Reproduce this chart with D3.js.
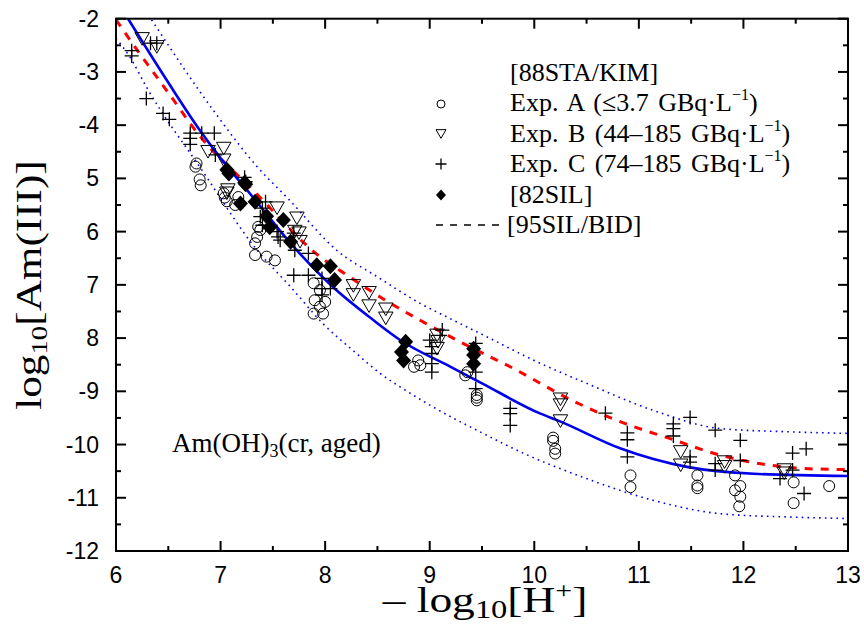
<!DOCTYPE html>
<html><head><meta charset="utf-8">
<script src="https://cdn.jsdelivr.net/npm/d3@7"></script>
<style>body{margin:0;background:#fff}svg{display:block}</style>
</head><body>
<svg id="c" width="864" height="625"></svg>
<script>
// ---------- data ----------
const xTicks = [6,7,8,9,10,11,12,13];
const xTickLabels = ["6","7","8","9","10","11","12","13"];
const yTicks = [-2,-3,-4,-5,-6,-7,-8,-9,-10,-11,-12];
const yTickLabels = ["-2","-3","-4","5","6","7","8","-9","-10","-11","-12"];

// Exp. A (circles)
const expA = [[6.77,-4.72],[6.76,-4.78],[6.80,-5.02],[6.81,-5.13],
 [7.03,-5.28],[7.04,-5.36],[7.06,-5.43],[7.17,-5.35],[7.14,-5.50],
 [7.36,-5.91],[7.38,-5.97],[7.35,-6.10],[7.33,-6.22],[7.33,-6.44],[7.44,-6.47],[7.52,-6.54],
 [7.89,-6.97],[7.95,-7.10],[7.90,-7.29],[8.00,-7.32],[7.95,-7.41],[7.89,-7.54],[7.98,-7.54],
 [8.89,-8.42],[8.85,-8.54],[8.91,-8.51],
 [9.34,-8.70],[9.36,-8.64],[9.45,-9.07],[9.45,-9.12],[9.45,-9.17],
 [10.18,-9.87],[10.18,-9.93],[10.20,-10.08],[10.20,-10.17],
 [10.92,-10.58],[10.92,-10.80],
 [11.56,-10.58],[11.56,-10.77],[11.56,-10.82],
 [11.92,-10.58],[11.92,-10.86],[11.97,-10.78],[11.97,-10.98],[11.96,-11.16],
 [12.48,-10.71],[12.48,-11.10],[12.82,-10.78]];
// Exp. B (down triangles)
const expB = [[6.25,-2.38],[6.39,-2.53],
 [6.88,-4.50],[7.03,-4.44],[7.03,-4.66],
 [7.07,-5.22],[7.06,-5.28],
 [7.54,-5.56],[7.73,-5.75],[7.71,-6.00],[7.76,-6.19],[7.75,-6.03],
 [8.27,-7.02],[8.27,-7.19],[8.42,-7.15],[8.42,-7.40],[8.58,-7.46],[8.58,-7.63],
 [9.07,-7.95],[9.08,-8.07],[9.07,-8.20],
 [10.25,-9.15],[10.25,-9.26],[10.25,-9.56],
 [11.40,-10.14],[11.40,-10.39],
 [11.82,-10.33],[11.82,-10.42],
 [12.39,-10.48],[12.39,-10.54]];
// Exp. C (plus)
const expC = [[6.15,-2.60],[6.15,-2.70],[6.33,-2.46],[6.39,-2.46],
 [6.29,-3.50],[6.45,-3.78],[6.51,-3.89],
 [6.71,-4.15],[6.71,-4.25],[6.71,-4.36],[6.82,-4.15],[6.94,-4.15],[6.95,-4.56],
 [7.23,-4.98],[7.24,-5.06],
 [7.43,-5.44],[7.40,-5.56],[7.38,-5.72],[7.40,-5.88],
 [7.54,-6.00],[7.55,-6.10],[7.57,-6.16],
 [7.70,-6.03],[7.71,-6.35],[7.84,-6.41],[7.70,-6.82],[7.84,-6.82],
 [7.97,-6.88],[7.97,-7.07],[7.97,-7.19],[8.05,-7.07],
 [9.12,-7.85],[9.10,-7.95],[9.00,-8.04],[9.02,-8.16],[9.02,-8.29],[9.02,-8.48],[9.02,-8.64],
 [9.44,-8.10],[9.44,-8.64],[9.44,-8.95],
 [9.77,-9.32],[9.77,-9.42],[9.77,-9.64],
 [10.68,-9.41],
 [10.89,-9.78],[10.89,-9.91],[10.89,-10.23],
 [11.33,-9.61],[11.33,-9.70],[11.33,-9.84],[11.49,-9.49],[11.49,-10.23],[11.49,-10.33],
 [11.73,-9.73],[11.73,-10.36],[11.73,-10.48],
 [11.97,-9.92],[11.97,-10.30],
 [12.35,-10.64],[12.47,-10.48],[12.47,-10.16],[12.60,-10.08],[12.58,-10.92]];
// [82SIL] (filled diamonds)
const sil82 = [[7.06,-4.84],[7.08,-4.91],[7.23,-5.08],[7.24,-5.11],[7.19,-5.47],[7.33,-5.44],
 [7.44,-5.71],[7.47,-5.92],[7.60,-5.78],[7.67,-6.19],[7.92,-6.63],[8.05,-6.65],[8.09,-6.91],
 [8.77,-8.07],[8.73,-8.26],[8.75,-8.42],[9.42,-8.20],[9.42,-8.32],[9.42,-8.48]];

// model curves
const modelLine = [[6.115,-2.0],[6.5,-3.2],[6.8,-4.09],[7.0,-4.62],[7.3,-5.33],[7.67,-6.22],
 [8.08,-7.05],[8.46,-7.66],[8.72,-8.04],[9.2,-8.54],[9.5,-8.85],[10.06,-9.42],[10.24,-9.56],
 [10.82,-10.07],[11.46,-10.42],[12.1,-10.55],[13.0,-10.59]];
const upperBound = [[6.34,-2.02],[6.93,-3.72],[7.35,-4.78],[7.66,-5.41],[8.11,-6.35],[8.5,-6.85],
 [8.91,-7.35],[9.16,-7.60],[9.55,-7.98],[10.03,-8.45],[10.50,-8.85],[11.14,-9.36],[11.78,-9.70],
 [12.42,-9.76],[13.0,-9.79]];
const lowerBound = [[6.0,-2.37],[6.13,-2.71],[6.29,-3.28],[6.82,-4.84],[7.35,-6.35],[7.67,-7.04],
 [7.98,-7.73],[8.30,-8.29],[8.53,-8.67],[8.72,-8.92],[9.26,-9.54],[9.42,-9.70],[9.87,-10.14],
 [10.50,-10.64],[11.14,-11.05],[11.78,-11.30],[12.42,-11.36],[13.0,-11.39]];
const sil95 = [[6.0,-2.02],[6.17,-2.5],[6.5,-3.39],[6.8,-4.2],[7.3,-5.2],[7.95,-6.47],[8.21,-6.82],
 [8.56,-7.27],[8.94,-7.70],[9.29,-8.07],[9.80,-8.57],[10.35,-9.16],[10.82,-9.57],[11.30,-9.89],
 [11.78,-10.20],[12.26,-10.39],[12.57,-10.45],[13.0,-10.47]];

// ---------- drawing ----------
const svg = d3.select("#c");
const L=116, R=848, T=18.7, B=551;
const x = d3.scaleLinear().domain([6,13]).range([L,R]);
const y = d3.scaleLinear().domain([-12,-2]).range([B,T]);

svg.append("defs").append("clipPath").attr("id","clip")
  .append("rect").attr("x",L).attr("y",T).attr("width",R-L).attr("height",B-T);

const blue="#0000ee", red="#ff0000";
const line = d3.line().x(d=>x(d[0])).y(d=>y(d[1])).curve(d3.curveMonotoneX);
const gC = svg.append("g").attr("clip-path","url(#clip)");
gC.append("path").datum(upperBound).attr("d",line).attr("fill","none")
  .attr("stroke",blue).attr("stroke-width",1.6).attr("stroke-dasharray","1.6,4.2");
gC.append("path").datum(lowerBound).attr("d",line).attr("fill","none")
  .attr("stroke",blue).attr("stroke-width",1.6).attr("stroke-dasharray","1.6,4.2");
gC.append("path").datum(sil95).attr("d",line).attr("fill","none")
  .attr("stroke",red).attr("stroke-width",3).attr("stroke-dasharray","8,8");
gC.append("path").datum(modelLine).attr("d",line).attr("fill","none")
  .attr("stroke",blue).attr("stroke-width",2.6);

// markers
const gM = svg.append("g");
function tri(cx,cy,s){const h=s*0.87;return `M${cx-s/2},${cy-h/2}L${cx+s/2},${cy-h/2}L${cx},${cy+h/2}Z`;}
function dia(cx,cy,w,h){return `M${cx},${cy-h/2}L${cx+w/2},${cy}L${cx},${cy+h/2}L${cx-w/2},${cy}Z`;}
function plus(cx,cy,s){return `M${cx-s/2},${cy}H${cx+s/2}M${cx},${cy-s/2}V${cy+s/2}`;}

gM.selectAll(".a").data(expA).join("circle").attr("cx",d=>x(d[0])).attr("cy",d=>y(d[1]))
  .attr("r",5.5).attr("fill","none").attr("stroke","#000").attr("stroke-width",1);
gM.selectAll(".b").data(expB).join("path").attr("d",d=>tri(x(d[0]),y(d[1]),14.5))
  .attr("fill","none").attr("stroke","#000").attr("stroke-width",1);
gM.selectAll(".c").data(expC).join("path").attr("d",d=>plus(x(d[0]),y(d[1]),14))
  .attr("fill","none").attr("stroke","#000").attr("stroke-width",1.3);
gM.selectAll(".d").data(sil82).join("path").attr("d",d=>dia(x(d[0]),y(d[1]),15,16))
  .attr("fill","#000");

// frame and ticks
const gA = svg.append("g").attr("stroke","#000").attr("stroke-width",2);
gA.append("rect").attr("x",L).attr("y",T).attr("width",R-L).attr("height",B-T).attr("fill","none");
const xMinor = d3.range(6.5,13,1), yMinor = d3.range(-11.5,-2,1);
xTicks.forEach(v=>{gA.append("line").attr("x1",x(v)).attr("x2",x(v)).attr("y1",B).attr("y2",B-10);
  gA.append("line").attr("x1",x(v)).attr("x2",x(v)).attr("y1",T).attr("y2",T+10);});
xMinor.forEach(v=>{gA.append("line").attr("x1",x(v)).attr("x2",x(v)).attr("y1",B).attr("y2",B-5);
  gA.append("line").attr("x1",x(v)).attr("x2",x(v)).attr("y1",T).attr("y2",T+5);});
yTicks.forEach(v=>{gA.append("line").attr("y1",y(v)).attr("y2",y(v)).attr("x1",L).attr("x2",L+10);
  gA.append("line").attr("y1",y(v)).attr("y2",y(v)).attr("x1",R).attr("x2",R-10);});
yMinor.forEach(v=>{gA.append("line").attr("y1",y(v)).attr("y2",y(v)).attr("x1",L).attr("x2",L+5);
  gA.append("line").attr("y1",y(v)).attr("y2",y(v)).attr("x1",R).attr("x2",R-5);});

// tick labels
const sans = "'Liberation Sans', Arial, sans-serif", serif = "'Liberation Serif','Times New Roman',serif";
svg.append("g").selectAll("text").data(xTicks).join("text")
  .attr("x",d=>x(d)).attr("y",B+32).attr("text-anchor","middle")
  .attr("font-family",sans).attr("font-size",23).text((d,i)=>xTickLabels[i]);
svg.append("g").selectAll("text").data(yTicks).join("text")
  .attr("x",L-17).attr("y",d=>y(d)+8).attr("text-anchor","end")
  .attr("font-family",sans).attr("font-size",23).text((d,i)=>yTickLabels[i]);

// axis titles
const xt = svg.append("text").attr("transform","translate(485,612) scale(1.3,1)").attr("text-anchor","middle")
  .attr("font-family",serif).attr("font-size",35);
xt.append("tspan").text("\u2013 log");
xt.append("tspan").attr("font-size",25).attr("dy",6).text("10");
xt.append("tspan").attr("dy",-6).text("[H");
xt.append("tspan").attr("font-size",23).attr("dy",-14).text("+");
xt.append("tspan").attr("dy",14).text("]");

const yt = svg.append("text").attr("transform","translate(41,285) rotate(-90) scale(1.2,1)").attr("text-anchor","middle")
  .attr("font-family",serif).attr("font-size",36);
yt.append("tspan").text("log");
yt.append("tspan").attr("font-size",24).attr("dy",6).text("10");
yt.append("tspan").attr("dy",-6).text("[Am(III)]");

// annotation
const an = svg.append("text").attr("x",172).attr("y",452).attr("font-family",serif).attr("font-size",27);
an.append("tspan").text("Am(OH)");
an.append("tspan").attr("font-size",18).attr("dy",5).text("3");
an.append("tspan").attr("dy",-5).text("(cr, aged)");

// legend
const lg = svg.append("g").attr("font-family",serif).attr("font-size",26);
const rows = [81,111,142,172,203,233];
const tx = 510;
lg.append("text").attr("x",tx).attr("y",rows[0]).text("[88STA/KIM]");
function gbq(t, pre){
  const el = lg.append("text").attr("x",tx).attr("y",t).style("word-spacing","3px");
  el.append("tspan").text(pre+" GBq\u00B7L");
  el.append("tspan").attr("font-size",16).attr("dy",-11).text("\u22121");
  el.append("tspan").attr("dy",11).text(")");
}
gbq(rows[1],"Exp. A (\u22643.7");
gbq(rows[2],"Exp. B (44\u2013185");
gbq(rows[3],"Exp. C (74\u2013185");
lg.append("text").attr("x",tx).attr("y",rows[4]).text("[82SIL]");
lg.append("text").attr("x",tx-3).attr("y",rows[5]).text("[95SIL/BID]");
const mx = 441;
lg.append("circle").attr("cx",mx).attr("cy",rows[1]-7).attr("r",4).attr("fill","none").attr("stroke","#000").attr("stroke-width",1);
lg.append("path").attr("d",tri(mx,rows[2]-8,10)).attr("fill","none").attr("stroke","#000").attr("stroke-width",1);
lg.append("path").attr("d",plus(mx,rows[3]-8,11)).attr("fill","none").attr("stroke","#000").attr("stroke-width",1.3);
lg.append("path").attr("d",dia(mx,rows[4]-8,10,11)).attr("fill","#000");
lg.append("line").attr("x1",436).attr("x2",505).attr("y1",rows[5]-8).attr("y2",rows[5]-8)
  .attr("stroke","#000").attr("stroke-width",1.5).attr("stroke-dasharray","7,7");
</script>
</body></html>
